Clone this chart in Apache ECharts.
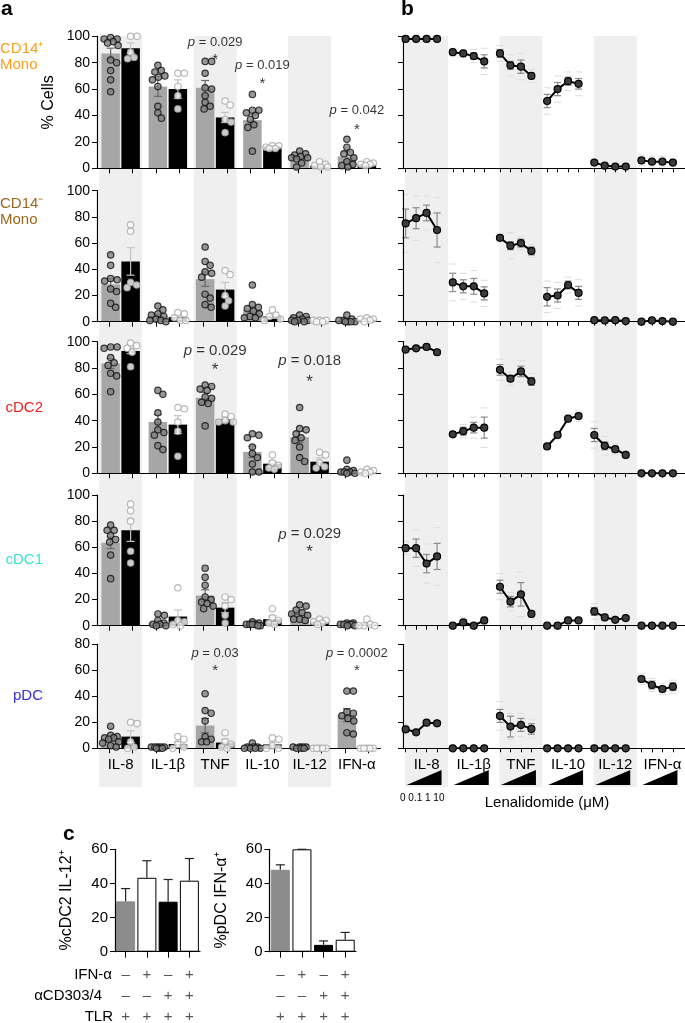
<!DOCTYPE html>
<html><head><meta charset="utf-8">
<script src="https://cdn.jsdelivr.net/npm/echarts@6/dist/echarts.min.js"></script>
<style>html,body{margin:0;padding:0;background:#fff}#c{width:685px;height:1023px}</style>
</head><body><div id="c"></div><script>
// ---------------- DATA ----------------
const cytokines = ['IL-8','IL-1β','TNF','IL-10','IL-12','IFN-α'];
const cellTypes = ['CD14⁺\nMono','CD14⁻\nMono','cDC2','cDC1','pDC'];
const cellColors = ['#f4a21c','#9a681d','#e2231d','#3ee0d1','#3b2ed4'];
const rowMax = [100,100,100,100,80];
const bandFlags = [1,0,1,0,1,0];

// panel a: bar means / SEM (grey = control, black = lenalidomide)
const aMeanGrey  = [[87,62,61,36.5,8.4,9],[28.5,4.3,32.5,9.3,1.8,1],[83.5,39,57.5,16.3,27.5,1.8],[63.5,2.5,23,1,10,1],[7.5,0.7,17.5,0.7,0.5,25.5]];
const aSemGrey   = [[4,7.5,5.5,4,1.5,3.5],[4.3,1.5,5.5,2.5,0.6,0.5],[3.8,5.5,4,4.3,4.3,1.2],[4.5,1,4.5,0.4,1.5,0.3],[1.5,0.3,5.5,0.4,0.2,5]];
const aMeanBlack = [[91,60,38.5,16.5,2,3],[46,3.5,24.5,4,0.5,1.5],[93,37,41.3,7.3,8.8,0.9],[73,7,13.8,5,3,1],[9,3.3,4.4,3,0.2,0.3]];
const aSemBlack  = [[4,7,3.8,0.8,1,0.8],[10.5,1.5,5.5,1.5,0.2,0.5],[2,6.8,1.5,2,3,0.5],[8.5,5,3.8,2.5,0.5,1],[4.5,2,2.5,1.8,0.1,0.1]];
// panel a: individual donors
const aPtsGrey = [
 [[99,98,98,96,95,93,82,80,74,67,58],[78,74,73,70,69,67,62,47,42,38],[81,81,72,61,60,55,50,47,45],[56,44,44,42,40,37,33,31,13],[13,11,10,9,8,8,7,4,1],[22,16,12,11,8,5,3,2,1]],
 [[51,43,33,32,31,25,23,14,11],[12,9,6,5,4,2,1,1,0],[57,46,43,38,37,34,21,18,13,11],[28,13,11,10,8,6,4,3,3],[5,4,3,2,1,1,1,0,0],[5,2,1,1,0,0,0,0]],
 [[96,96,95,88,84,82,76,74,62],[63,60,46,39,33,31,29,21,18],[67,66,64,63,58,57,54,53,36],[30,29,27,20,15,12,7,1,1],[50,34,33,30,27,25,20,12,9],[10,3,2,1,1,1,0,0]],
 [[77,73,73,69,66,64,54,36],[9,8,4,2,1,1,0,0],[44,37,31,22,20,18,17,15,13],[3,2,1,1,1,1,0,0],[16,15,12,10,9,8,5,5,4],[2,2,1,1,1,1,0,0]],
 [[17,10,9,8,8,7,5,4,2,1],[1,1,1,1,1,0,0,0],[42,29,27,21,9,7,5,5],[4,1,1,1,0,0,0,0],[1,1,1,1,0,0,0],[44,44,28,27,25,23,21,12,11]]
];
const aPtsBlack = [
 [[100,100,88,84,83],[72,72,62,55,45],[51,48,37,35,27],[17,17,16,15,15],[5,3,2,1,1],[5,4,3,3,2]],
 [[74,69,30,28,26],[7,6,3,1,1],[39,36,20,16,12],[9,5,4,2,1],[1,1,1,0,0],[3,2,2,1,0]],
 [[99,97,95,92,81],[50,49,39,32,13],[45,43,40,39,39],[14,8,6,4,3],[16,14,8,5,4],[3,2,1,1,0]],
 [[93,88,80,57,48],[29,4,3,1,0],[22,20,15,8,2],[13,6,4,2,1],[5,4,3,2,1],[5,1,0,0,0]],
 [[20,19,5,1,0],[9,7,3,1,0],[12,5,3,1,0],[8,7,2,0,0],[0,0,0,0,0],[0,0,0,0,0]]
];
// p-value annotations: [category index, text y, p text, star y]
const pNotes = [
 [[2,95.7,'0.029',85],[3,77.8,'0.019',67],[5,44,'0.042',32]],
 [],
 [[2,93.2,'0.029',81.4],[4,85.6,'0.018',72.3]],
 [[4,69.9,'0.029',59.2]],
 [[2,73,'0.03',62.8],[5,73,'0.0002',62.8]]
];
const pFont = [13,13,15,15,13];

// panel b: lenalidomide dose response (mean, SEM, SD) per row / cytokine / dose
const doses = ['0','0.1','1','10'];
const bMean = [
 [[98,98,98,98],[88,87,85,81],[87,78,77,70],[51,60,66,64],[4.3,2,1.3,1.3],[6,5,5,4.3]],
 [[75,79,83,70],[30,27,27,21.6],[64,58,60,54],[19,20,28,22],[1.2,1,1.2,0.5],[0,1,0.5,0]],
 [[94,95,96,92],[29.6,32,34.7,34.7],[78.6,71.9,77.4,69.8],[20.4,29.1,41.5,43.5],[29.1,20.9,18.3,14],[0,0,0,0]],
 [[59.3,59.3,47.5,53],[0,2.5,0,4],[29.8,18.4,24,9],[0,0,4,4],[10.9,6.3,4.5,5.8],[0,0,0,0]],
 [[14.6,12.3,19.7,19.2],[0,0,0,0],[24.9,16.7,18,14.9],[0,0,0,0],[0,0,0,0],[53.3,48.7,45.6,47.4]]
];
const bSem = [
 [[0.5,0.5,0.5,0.5],[1.5,1.5,2.5,5],[3,3,5,2],[5,5,3,4],[0.5,0.5,0.5,0.5],[2,1.5,1.5,1]],
 [[11,8,6,13],[7,5,6,5],[1.5,3,3,3],[7,5,3,5],[0.5,0.5,0.5,0.3],[0.2,0.5,0.3,0.2]],
 [[1,1,1,1],[1,3,4,8],[4,2,4,3],[1,1.5,1.5,2],[5,3,2,1.5],[0.2,0.2,0.2,0.2]],
 [[2,7,7,10],[0.5,2,0.5,1.5],[5,4,9,1.5],[0.2,0.2,1.5,0.5],[3,1.5,1.5,1.5],[0.2,0.2,0.2,0.2]],
 [[2,1,1,1],[0.2,0.2,0.2,0.2],[5,8,5,4],[0.2,0.2,0.2,0.2],[0.2,0.2,0.2,0.2],[2,3,2,3]]
];
const bSd = [
 [[1,1,1,1],[3,3,5,10],[6,8,10,5],[10,10,7,9],[1,1,1,1],[4,4,4,3]],
 [[22,17,13,25],[14,10,12,10],[3,10,5,5],[12,10,6,10],[1,1,1,1],[0.5,1,0.5,0.5]],
 [[2,2,2,2],[2,5,8,15],[8,5,8,6],[2,3,3,4],[10,7,4,3],[0.3,0.3,0.3,0.3]],
 [[5,14,15,22],[1,4,1,3],[10,7,17,3],[0.5,0.5,3,1],[6,3,3,3],[0.3,0.3,0.3,0.3]],
 [[4,2,2,2],[0.3,0.3,0.3,0.3],[11,10,9,7],[0.3,0.3,0.3,0.3],[0.3,0.3,0.3,0.3],[4,5,4,5]]
];

// panel c
const signIFN   = ['–','+','–','+'];
const signCD303 = ['–','–','+','+'];
const signTLR   = ['+','+','+','+'];
const signRowNames = ['IFN-α','αCD303/4','TLR'];
const cIL12Mean = [29.5,43.3,29.3,41.6];
const cIL12Err  = [7.5,10,13,13];
const cIFNMean  = [48,60,4,7];
const cIFNErr   = [2.9,0,2.3,4.3];
const cColors   = ['#8c8c8c','#ffffff','#000000','#ffffff'];

// ---------------- LAYOUT / STYLE ----------------
const FONT = 'Liberation Sans, Arial, Helvetica, sans-serif';
const rowTop = [36.3,190.7,341.7,495,644.3];
const rowBot = [168.3,321.7,473.3,625.7,748.3];
const A_LEFT = 97, A_W = 283.5, B_LEFT = 403, B_W = 283;
const BAR_W = 18.5, BAR_GAP = 0.08, BAR_OFF = BAR_W*(1+BAR_GAP)/2;
const slots12 = Array.from({length:12},()=>'');
const slots54 = Array.from({length:54},()=>'');

const option = {animation:false, textStyle:{fontFamily:FONT}, grid:[], xAxis:[], yAxis:[], series:[], graphic:[]};
const addGrid = g => (option.grid.push(Object.assign({outerBoundsMode:'none', containLabel:false}, g)), option.grid.length-1);
const addX = a => (option.xAxis.push(a), option.xAxis.length-1);
const addY = a => (option.yAxis.push(a), option.yAxis.length-1);
const axLine = {show:true, lineStyle:{color:'#000', width:1.2}};
const axTick = {show:true, length:5, lineStyle:{color:'#000', width:1}};

function swarm(vals, ppu){
  const D = 6.2, MAXW = 8, placed = [], res = new Array(vals.length);
  const order = vals.map((v,i)=>i).sort((a,b)=>vals[b]-vals[a]);
  const cands = [0]; for(let k=1;k<=16;k++){ cands.push(k*0.5, -k*0.5); }
  for(const i of order){
    const y = vals[i]*ppu; let pick = null, bestX = 0, bestD = -1;
    for(const x of cands){
      if(Math.abs(x) > MAXW) continue;
      const md = placed.reduce((m,p)=>Math.min(m, Math.hypot(p[0]-x,p[1]-y)), Infinity);
      if(md >= D){ pick = x; break; }
      if(md > bestD){ bestD = md; bestX = x; }
    }
    if(pick === null) pick = bestX;
    placed.push([pick,y]); res[i] = pick;
  }
  return res;
}

// ---------- background bands ----------
function bands(left, width){
  const gi = addGrid({left, top:36, width, height:751});
  const xi = addX({type:'category', gridIndex:gi, data:cytokines, show:false});
  const yi = addY({type:'value', gridIndex:gi, min:0, max:1, show:false});
  option.series.push({type:'bar', xAxisIndex:xi, yAxisIndex:yi, silent:true, z:0, barWidth:43,
    itemStyle:{color:'#efefef'}, data:bandFlags.map(f=>f?1:'-')});
  return [xi, yi];
}
bands(A_LEFT, A_W);
const bgB = bands(B_LEFT, B_W);
// wedges under panel b
option.series.push({type:'custom', xAxisIndex:bgB[0], yAxisIndex:bgB[1], silent:true, z:3,
  data:cytokines.map((c,i)=>[i,0]),
  renderItem:(p,api)=>{ const pt = api.coord([api.value(0),0]); const cx = pt[0]-2.5, yb = pt[1]-2;
    return {type:'polygon', shape:{points:[[cx-17.5,yb],[cx+17.5,yb],[cx+17.5,yb-15]]}, style:{fill:'#000'}}; }});

// ---------- panel a ----------
for(let r=0;r<5;r++){
  const gi = addGrid({left:A_LEFT, top:rowTop[r], width:A_W, height:rowBot[r]-rowTop[r]});
  const ppu = (rowBot[r]-rowTop[r])/rowMax[r];
  const xc = addX({type:'category', gridIndex:gi, data:cytokines, z:3, axisLine:axLine, axisTick:{show:false},
    axisLabel:{show:r===4, fontSize:15, color:'#000', margin:9, interval:0}});
  addX({type:'category', gridIndex:gi, data:slots12, position:'bottom', z:3, axisLine:{show:false},
    axisTick:{show:true, alignWithLabel:true, interval:0, length:5, lineStyle:{color:'#000'}}, axisLabel:{show:false}});
  const yi = addY({type:'value', gridIndex:gi, min:0, max:rowMax[r], interval:20, z:3, axisLine:axLine, axisTick:axTick,
    splitLine:{show:false}, axisLabel:{fontSize:14, color:'#000', margin:7},
    name: r===0 ? '% Cells' : '', nameLocation:'middle', nameGap:40, nameTextStyle:{fontSize:16, color:'#000'}});
  option.series.push({type:'bar', xAxisIndex:xc, yAxisIndex:yi, data:aMeanGrey[r], barWidth:BAR_W, barGap:(BAR_GAP*100)+'%', itemStyle:{color:'#a6a6a6'}, silent:true, z:2});
  option.series.push({type:'bar', xAxisIndex:xc, yAxisIndex:yi, data:aMeanBlack[r], barWidth:BAR_W, barGap:(BAR_GAP*100)+'%', itemStyle:{color:'#000'}, silent:true, z:2});
  const errData = [];
  cytokines.forEach((c,i)=>{ errData.push([i,aMeanGrey[r][i],aSemGrey[r][i],0]); errData.push([i,aMeanBlack[r][i],aSemBlack[r][i],1]); });
  option.series.push({type:'custom', xAxisIndex:xc, yAxisIndex:yi, silent:true, z:3, data:errData,
    renderItem:(p,api)=>{
      const c=api.value(0), m=api.value(1), s=api.value(2), g=api.value(3);
      const x = api.coord([c,m])[0] + (g?1:-1)*BAR_OFF;
      const yT = api.coord([c,m+s])[1], yB = api.coord([c,Math.max(0,m-s)])[1];
      const st = {stroke: g ? '#c4c4c4' : '#6a6a6a', lineWidth:1.2};
      return {type:'group', children:[
        {type:'line', shape:{x1:x,y1:yT,x2:x,y2:yB}, style:st},
        {type:'line', shape:{x1:x-4,y1:yT,x2:x+4,y2:yT}, style:st},
        {type:'line', shape:{x1:x-4,y1:yB,x2:x+4,y2:yB}, style:st}]};
    }});
  [[aPtsGrey,0,'#7e7e7e','#111111'],[aPtsBlack,1,'#ffffff','#a8a8a8']].forEach(([pts,g,fill,stroke])=>{
    const data = [];
    pts[r].forEach((vals,i)=>{ const off = swarm(vals, ppu);
      vals.forEach((v,k)=>data.push({value:[i,v], symbolOffset:[(g?1:-1)*BAR_OFF + off[k], 0]})); });
    option.series.push({type:'scatter', xAxisIndex:xc, yAxisIndex:yi, silent:true, z:4, symbol:'circle', symbolSize:6.4,
      itemStyle:{color:fill, borderColor:stroke, borderWidth:1.2}, data});
  });
  if(pNotes[r].length){
    const fs = pFont[r];
    option.series.push({type:'scatter', xAxisIndex:xc, yAxisIndex:yi, silent:true, z:5, symbolSize:0.1, itemStyle:{color:'transparent'},
      data:pNotes[r].map(n=>({value:[n[0],n[1]], name:n[2]})),
      label:{show:true, position:'inside', color:'#000', fontSize:fs, formatter:p=>'{i|p} = '+p.name,
        rich:{i:{fontStyle:'italic', fontSize:fs, color:'#000'}}}});
    option.series.push({type:'scatter', xAxisIndex:xc, yAxisIndex:yi, silent:true, z:5, symbolSize:0.1, itemStyle:{color:'transparent'},
      data:pNotes[r].map(n=>[n[0],n[3]]),
      label:{show:true, position:'inside', color:'#000', fontSize:fs+2, formatter:'*', offset:[0,4]}});
  }
  option.graphic.push({type:'text', x: r<2 ? 0 : 43, y: r<2 ? rowTop[r]+21 : (rowTop[r]+rowBot[r])/2,
    style:{text:cellTypes[r], fill:cellColors[r], fontSize:15, fontFamily:FONT, lineHeight:16,
      align: r<2 ? 'left' : 'right', verticalAlign:'middle'}});
}

// ---------- panel b ----------
for(let r=0;r<5;r++){
  const gi = addGrid({left:B_LEFT, top:rowTop[r], width:B_W, height:rowBot[r]-rowTop[r]});
  const xs = addX({type:'category', gridIndex:gi, data:slots54, z:3, axisLine:axLine,
    axisTick:{show:true, alignWithLabel:true, length:4, lineStyle:{color:'#000'}, interval:(i)=>(i%9)%2===0 && (i%9)<7},
    axisLabel:{show:false}});
  if(r===4){
    addX({type:'category', gridIndex:gi, data:cytokines, position:'bottom', axisLine:{show:false}, axisTick:{show:false},
      axisLabel:{fontSize:15, color:'#000', margin:9, interval:0}});
  }
  const yi = addY({type:'value', gridIndex:gi, min:0, max:rowMax[r], interval:20, z:3, axisLine:axLine, axisTick:axTick,
    splitLine:{show:false}, axisLabel:{show:false}});
  const errData = [];
  cytokines.forEach((c,i)=>{
    const d = bMean[r][i].map((m,j)=>[i*9+2*j, m]);
    bMean[r][i].forEach((m,j)=>errData.push([i*9+2*j, m, bSem[r][i][j], bSd[r][i][j]]));
    option.series.push({type:'line', xAxisIndex:xs, yAxisIndex:yi, data:d, silent:true, z:4, symbol:'circle', symbolSize:7,
      showSymbol:true, showAllSymbol:true,
      itemStyle:{color:'#3c3c3c', borderColor:'#000', borderWidth:1.2}, lineStyle:{color:'#000', width:2}});
  });
  option.series.push({type:'custom', xAxisIndex:xs, yAxisIndex:yi, silent:true, z:3, data:errData,
    renderItem:(p,api)=>{
      const c=api.value(0), m=api.value(1), s=api.value(2), sd=api.value(3);
      const x = api.coord([c,m])[0];
      const yT = api.coord([c,m+s])[1], yB = api.coord([c,Math.max(0,m-s)])[1];
      const dT = api.coord([c,m+sd])[1], dB = api.coord([c,Math.max(0,m-sd)])[1];
      const st = {stroke:'#8a8a8a', lineWidth:1.2}, st2 = {stroke:'#dcdcdc', lineWidth:1};
      return {type:'group', children:[
        {type:'line', shape:{x1:x-3.5,y1:dT,x2:x+3.5,y2:dT}, style:st2},
        {type:'line', shape:{x1:x-3.5,y1:dB,x2:x+3.5,y2:dB}, style:st2},
        {type:'line', shape:{x1:x,y1:yT,x2:x,y2:yB}, style:st},
        {type:'line', shape:{x1:x-3.5,y1:yT,x2:x+3.5,y2:yT}, style:st},
        {type:'line', shape:{x1:x-3.5,y1:yB,x2:x+3.5,y2:yB}, style:st}]};
    }});
}

// ---------- panel c ----------
function panelC(left, width, means, errs, yName){
  const gi = addGrid({left, top:849.3, width, height:102.4});
  const xi = addX({type:'category', gridIndex:gi, data:['0','1','2','3'], z:3, axisLine:axLine,
    axisTick:{show:true, alignWithLabel:true, length:6, lineStyle:{color:'#000'}},
    axisLabel:{interval:0, margin:13, fontSize:15, lineHeight:21, color:'#555',
      formatter:(v,i)=>[signIFN[i],signCD303[i],signTLR[i]].join('\n')}});
  const yi = addY({type:'value', gridIndex:gi, min:0, max:60, interval:20, z:3, axisLine:axLine, axisTick:axTick,
    splitLine:{show:false}, axisLabel:{fontSize:15, color:'#000', margin:7},
    name:yName, nameLocation:'middle', nameGap:40, nameTextStyle:{fontSize:16, color:'#000'}});
  option.series.push({type:'bar', xAxisIndex:xi, yAxisIndex:yi, barWidth:19, silent:true, z:2,
    data:means.map((m,i)=>({value:m, itemStyle:{color:cColors[i], borderColor: cColors[i]==='#ffffff' ? '#000' : cColors[i], borderWidth:1}}))});
  option.series.push({type:'custom', xAxisIndex:xi, yAxisIndex:yi, silent:true, z:3,
    data:means.map((m,i)=>[i,m,errs[i]]),
    renderItem:(p,api)=>{
      const c=api.value(0), m=api.value(1), e=api.value(2);
      const x = api.coord([c,m])[0], y0 = api.coord([c,m])[1], y1 = api.coord([c,m+e])[1];
      const st = {stroke:'#222', lineWidth:1.2};
      return {type:'group', children:[
        {type:'line', shape:{x1:x,y1:y0,x2:x,y2:y1}, style:st},
        {type:'line', shape:{x1:x-4.5,y1:y1,x2:x+4.5,y2:y1}, style:st}]};
    }});
}
panelC(115, 85, cIL12Mean, cIL12Err, '%cDC2 IL-12⁺');
panelC(269.5, 86.5, cIFNMean, cIFNErr, '%pDC IFN-α⁺');

// ---------- texts ----------
const T = (x,y,text,extra)=>option.graphic.push({type:'text', x, y, silent:true,
  style:Object.assign({text, fill:'#000', fontFamily:FONT, fontSize:15, align:'left', verticalAlign:'middle'}, extra||{})});
T(1,9,'a',{fontSize:21, fontWeight:'bold'});
T(401,9,'b',{fontSize:21, fontWeight:'bold'});
T(63,834,'c',{fontSize:21, fontWeight:'bold'});
T(112,975,signRowNames[0],{align:'right'});
T(102,996,signRowNames[1],{align:'right'});
T(113,1017,signRowNames[2],{align:'right'});
T(400,798,doses.join(' '),{fontSize:10});
T(547,803,'Lenalidomide (μM)',{align:'center'});

echarts.init(document.getElementById('c'), null, {renderer:'canvas'}).setOption(option);
</script></body></html>
